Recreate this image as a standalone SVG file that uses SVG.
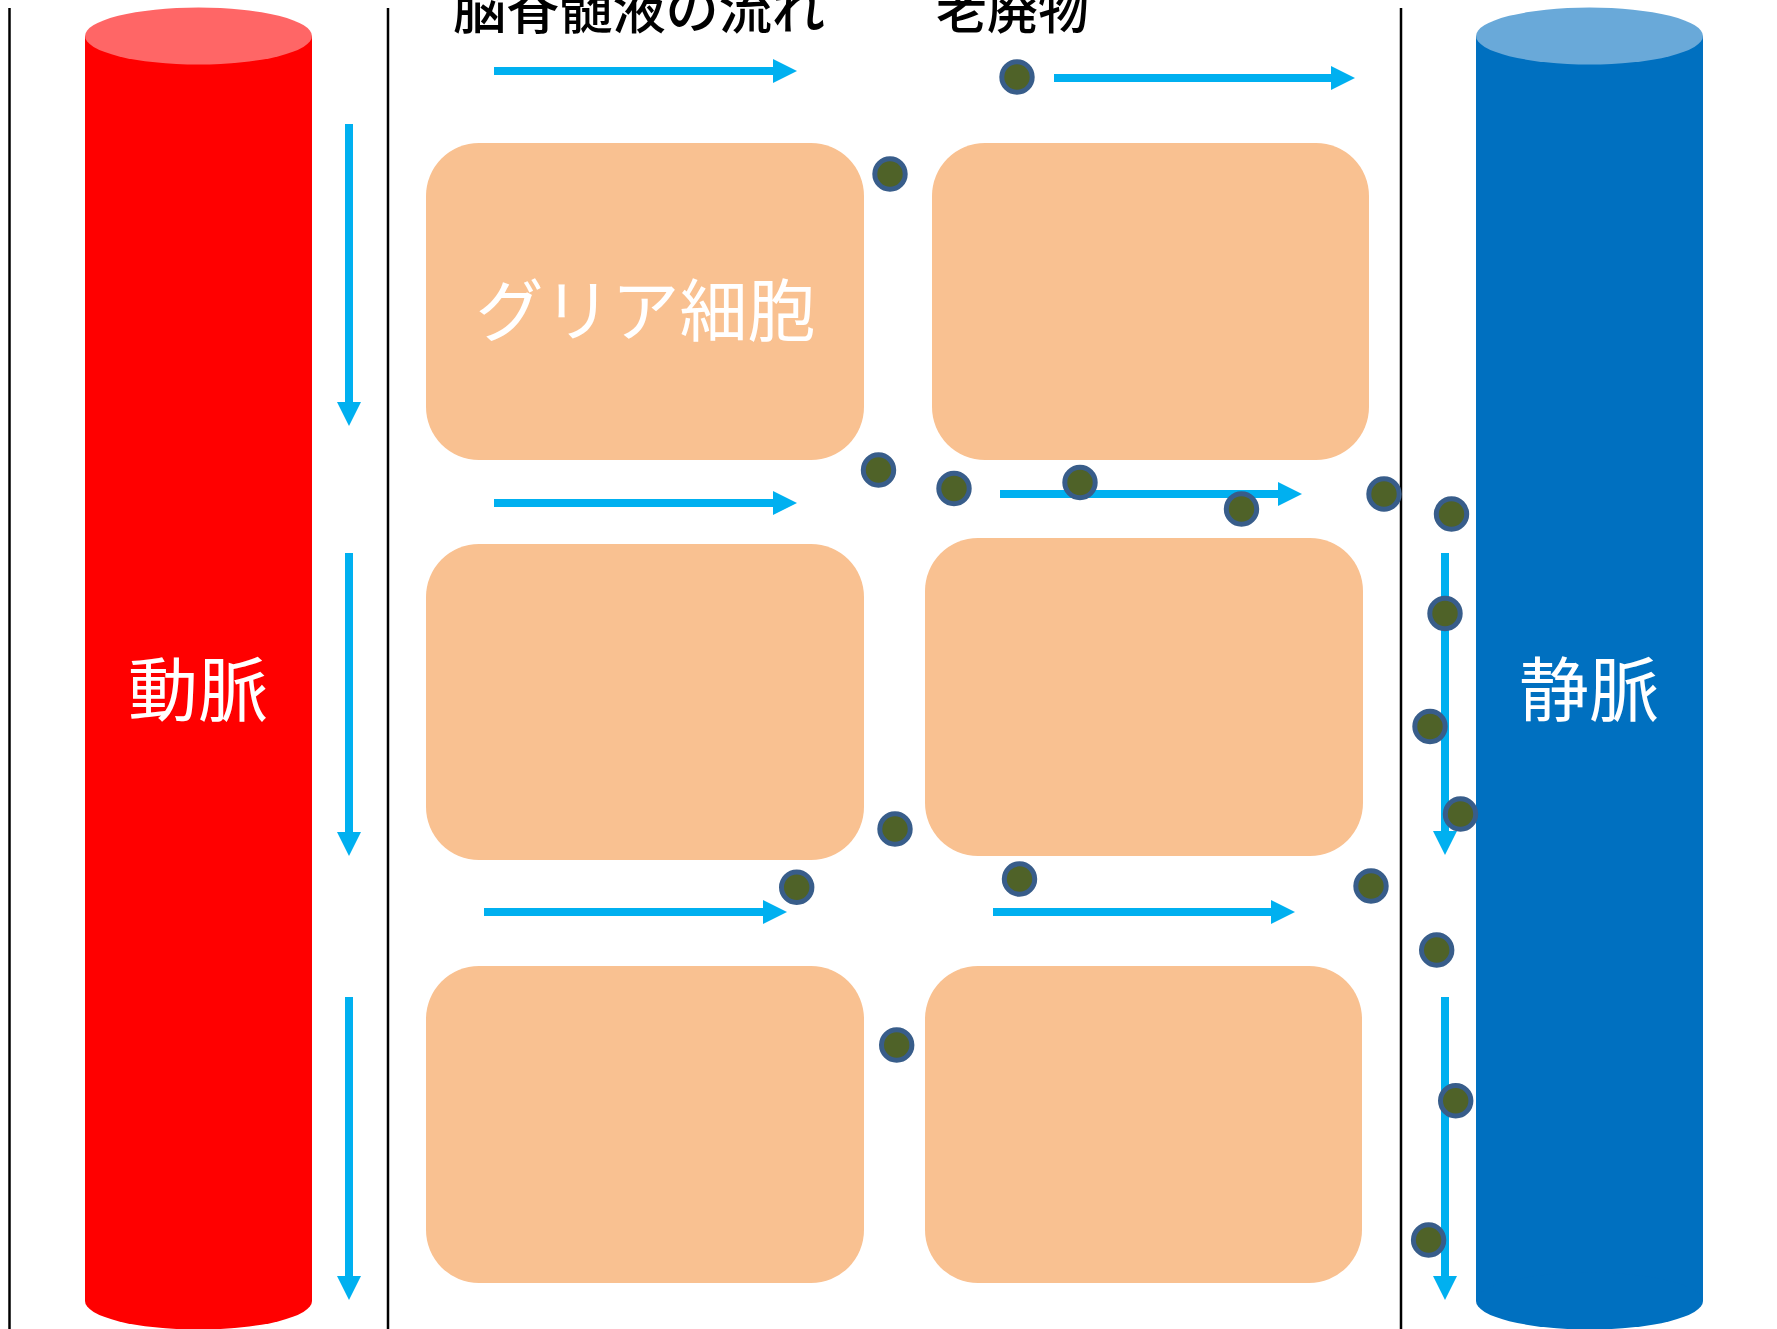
<svg xmlns="http://www.w3.org/2000/svg" width="1777" height="1329" viewBox="0 0 1777 1329">
  <style>
    .divider { stroke: #000000; stroke-width: 2.5; }
    .cell { fill: #F9C191; }
    .flow { stroke: #00B0F0; stroke-width: 8; fill: none; marker-end: url(#head); }
    .waste { fill: #4F6228; stroke: #385D8A; stroke-width: 5; }
    .label { font-family: "Noto Sans CJK JP", "Noto Sans CJK SC", sans-serif; }
    .white { fill: #FFFFFF; font-size: 70px; text-anchor: middle; }
    .title { fill: #000000; font-size: 54px; font-weight: 500; }
  </style>
  <defs>
    <marker id="head" viewBox="0 0 24 24" refX="0" refY="12" markerWidth="24" markerHeight="24" markerUnits="userSpaceOnUse" orient="auto">
      <path d="M0,0 L24,12 L0,24 Z" fill="#00B0F0"/>
    </marker>
  </defs>

  <g id="dividers">
    <line class="divider" x1="9.5" y1="8" x2="9.5" y2="1329"/>
    <line class="divider" x1="388" y1="8" x2="388" y2="1329"/>
    <line class="divider" x1="1401" y1="8" x2="1401" y2="1329"/>
  </g>

  <g id="artery">
    <rect x="85" y="36" width="227" height="1265" fill="#FF0000"/>
    <ellipse cx="198.5" cy="1301" rx="113.5" ry="28.5" fill="#FF0000"/>
    <ellipse cx="198.5" cy="36" rx="113.5" ry="28.5" fill="#FF6666"/>
    <text class="label white" x="198" y="716">動脈</text>
  </g>

  <g id="vein">
    <rect x="1476" y="36" width="227" height="1265" fill="#0070C0"/>
    <ellipse cx="1589.5" cy="1301" rx="113.5" ry="28.5" fill="#0070C0"/>
    <ellipse cx="1589.5" cy="36" rx="113.5" ry="28.5" fill="#69A9D9"/>
    <text class="label white" x="1589" y="716">静脈</text>
  </g>

  <g id="cell1">
    <rect class="cell" x="426" y="143" width="438" height="317" rx="53" ry="53"/>
    <text class="label white" x="645.5" y="336" style="font-size:68px">グリア細胞</text>
  </g>
  <g id="cell2"><rect class="cell" x="932" y="143" width="437" height="317" rx="53" ry="53"/></g>
  <g id="cell3"><rect class="cell" x="426" y="544" width="438" height="316" rx="53" ry="53"/></g>
  <g id="cell4"><rect class="cell" x="925" y="538" width="438" height="318" rx="53" ry="53"/></g>
  <g id="cell5"><rect class="cell" x="426" y="966" width="438" height="317" rx="53" ry="53"/></g>
  <g id="cell6"><rect class="cell" x="925" y="966" width="437" height="317" rx="53" ry="53"/></g>

  <g id="title-csf">
    <text class="label title" x="453" y="29" textLength="372" lengthAdjust="spacingAndGlyphs">脳脊髄液の流れ</text>
  </g>
  <g id="title-waste">
    <text class="label title" x="936" y="29" textLength="153" lengthAdjust="spacingAndGlyphs">老廃物</text>
  </g>

  <g id="connectors">
    <line class="flow" x1="494" y1="71" x2="773" y2="71"/>
    <line class="flow" x1="1054" y1="78" x2="1331" y2="78"/>
    <line class="flow" x1="494" y1="503" x2="773" y2="503"/>
    <line class="flow" x1="1000" y1="494" x2="1278" y2="494"/>
    <line class="flow" x1="484" y1="912" x2="763" y2="912"/>
    <line class="flow" x1="993" y1="912" x2="1271" y2="912"/>
    <line class="flow" x1="349" y1="124" x2="349" y2="402"/>
    <line class="flow" x1="349" y1="553" x2="349" y2="832"/>
    <line class="flow" x1="349" y1="997" x2="349" y2="1276"/>
    <line class="flow" x1="1445" y1="553" x2="1445" y2="831"/>
    <line class="flow" x1="1445" y1="997" x2="1445" y2="1276"/>
  </g>

  <g id="waste-particles">
    <circle class="waste" cx="1017" cy="77" r="15.2"/>
    <circle class="waste" cx="890" cy="174" r="15.2"/>
    <circle class="waste" cx="878.5" cy="470" r="15.2"/>
    <circle class="waste" cx="954" cy="488.5" r="15.2"/>
    <circle class="waste" cx="1080" cy="482.5" r="15.2"/>
    <circle class="waste" cx="1241.5" cy="509" r="15.2"/>
    <circle class="waste" cx="1384" cy="494" r="15.2"/>
    <circle class="waste" cx="1451.5" cy="514" r="15.2"/>
    <circle class="waste" cx="1445" cy="613.5" r="15.2"/>
    <circle class="waste" cx="1430" cy="726.5" r="15.2"/>
    <circle class="waste" cx="1460.5" cy="814" r="15.2"/>
    <circle class="waste" cx="895" cy="829" r="15.2"/>
    <circle class="waste" cx="796.7" cy="887.3" r="15.2"/>
    <circle class="waste" cx="1019.5" cy="879" r="15.2"/>
    <circle class="waste" cx="1371" cy="886" r="15.2"/>
    <circle class="waste" cx="1436.7" cy="950" r="15.2"/>
    <circle class="waste" cx="896.7" cy="1045" r="15.2"/>
    <circle class="waste" cx="1455.7" cy="1100.7" r="15.2"/>
    <circle class="waste" cx="1428.6" cy="1240" r="15.2"/>
  </g>
</svg>
